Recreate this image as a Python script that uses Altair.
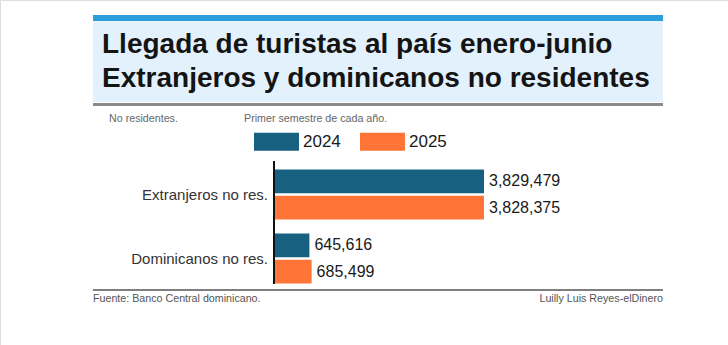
import altair as alt
import pandas as pd

categories = ["Extranjeros no res.", "Dominicanos no res."]
years = ["2024", "2025"]
values_2024 = [3829479, 645616]
values_2025 = [3828375, 685499]
colors = ["#17607f", "#ff7437"]

title_lines = ["Llegada de turistas al país enero-junio",
               "Extranjeros y dominicanos no residentes"]
note_left = "No residentes."
note_mid = "Primer semestre de cada año."
source = "Fuente: Banco Central dominicano."
credit = "Luilly Luis Reyes-elDinero"

rows = []
for i, c in enumerate(categories):
    rows.append({"category": c, "year": years[0], "value": values_2024[i]})
    rows.append({"category": c, "year": years[1], "value": values_2025[i]})
df = pd.DataFrame(rows)
df["label"] = df["value"].map(lambda v: f"{v:,}")

FONT = "Liberation Sans, Arial, sans-serif"
one = pd.DataFrame({"k": [0]})

xs = alt.Scale(domain=[0, max(values_2024 + values_2025)], range=[274, 484])
ys = alt.Scale(domain=categories, range=[162.5, 290.5], paddingInner=0.22, paddingOuter=0.11)
yo = alt.Scale(domain=years, paddingInner=0.1, paddingOuter=0)
cs = alt.Scale(domain=years, range=colors)

base = alt.Chart(df)

def deco_rect(x, x2, y, y2, color):
    return alt.Chart(one).mark_rect(color=color).encode(
        x=alt.value(x), x2=alt.value(x2), y=alt.value(y), y2=alt.value(y2))

def deco_text(txt, x, y, size, color, align="left", weight="normal", baseline="alphabetic"):
    return alt.Chart(one).mark_text(
        text=txt, align=align, baseline=baseline, font=FONT, fontSize=size,
        color=color, fontWeight=weight).encode(x=alt.value(x), y=alt.value(y))

top_bar = deco_rect(93, 663, 15, 21, "#2a9fdc")
title_bg = deco_rect(93, 663, 21, 102, "#e2f1fb")
gray_line = deco_rect(93, 663, 103, 106, "#8e8989")
t1 = deco_text(title_lines[0], 102, 53, 28, "#141414", weight="bold")
t2 = deco_text(title_lines[1], 102, 87, 28, "#141414", weight="bold")
n1 = deco_text(note_left, 109, 122, 10.7, "#666666")
n2 = deco_text(note_mid, 244, 122, 10.7, "#666666")

bars = base.mark_bar().encode(
    x=alt.X("value:Q", scale=xs, axis=None),
    y=alt.Y("category:N", scale=ys, axis=None),
    yOffset=alt.YOffset("year:N", scale=yo),
    color=alt.Color("year:N", scale=cs, legend=alt.Legend(
        orient="none", legendX=254, legendY=119, direction="horizontal", title=None,
        symbolType="M-1,-0.4H1V0.4H-1Z", symbolSize=2025, symbolStrokeWidth=0,
        symbolOpacity=1, labelFont=FONT, labelFontSize=17, labelColor="#1a1a1a",
        labelOffset=4, columnPadding=19)),
)

vals = base.mark_text(align="left", baseline="middle", dx=5, font=FONT, fontSize=16,
                      color="#1a1a1a").encode(
    x=alt.X("value:Q", scale=xs),
    y=alt.Y("category:N", scale=ys),
    yOffset=alt.YOffset("year:N", scale=yo),
    text="label:N",
)

cat_df = pd.DataFrame({"category": categories})
cats = alt.Chart(cat_df).mark_text(align="right", baseline="middle", font=FONT,
                                   fontSize=15, color="#333333").encode(
    y=alt.Y("category:N", scale=ys), x=alt.value(268), text="category:N")

axis_line = alt.Chart(one).mark_rule(color="#111111", strokeWidth=2).encode(
    x=alt.value(274), y=alt.value(161), y2=alt.value(284))

foot_line = alt.Chart(one).mark_rule(color="#555555", strokeWidth=1.5).encode(
    x=alt.value(93), x2=alt.value(663), y=alt.value(290))
f1 = deco_text(source, 93, 302, 10.7, "#555555")
f2 = deco_text(credit, 663, 302, 10.7, "#555555", align="right")

chart = alt.layer(
    top_bar, title_bg, gray_line, t1, t2, n1, n2,
    bars, vals, cats, axis_line, foot_line, f1, f2
).resolve_scale(x="shared", y="shared").properties(
    width=728, height=345, padding=0, autosize=alt.AutoSizeParams(type="none")
).configure_view(stroke=None).configure(background="white")

chart.save("out.html", embed_options={"renderer": "svg", "actions": False})
